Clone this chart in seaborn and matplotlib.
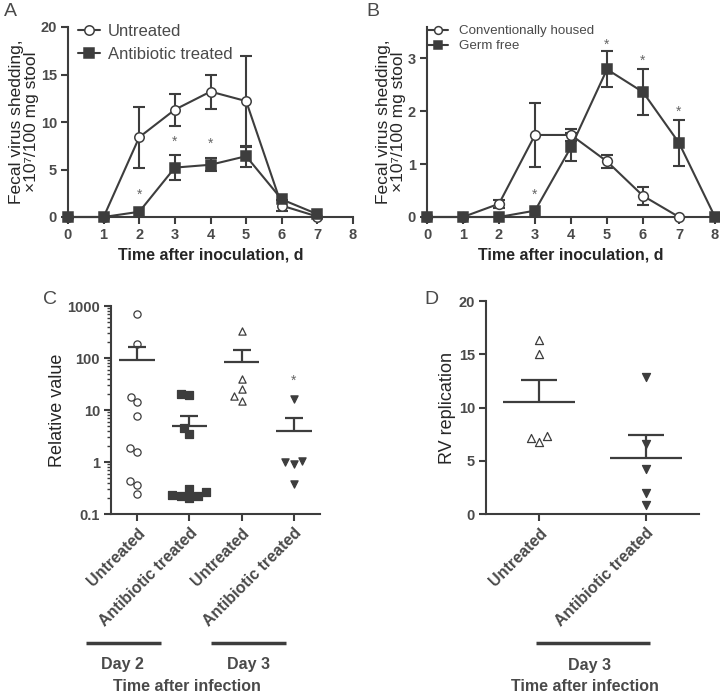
import numpy as np
import pandas as pd
import matplotlib
matplotlib.use("Agg")
import matplotlib.pyplot as plt
import seaborn as sns

# ==============================================================================
# DATOS
# ==============================================================================
# Panel A
days_a = [0, 1, 2, 3, 4, 5, 6, 7]
untreated_a = [0, 0, 8.4, 11.3, 13.2, 12.2, 1.2, 0.05]
untreated_a_err = [0, 0, 3.2, 1.7, 1.8, 4.8, 0.55, 0]
antibiotic_a = [0, 0, 0.55, 5.2, 5.5, 6.4, 1.85, 0.3]
antibiotic_a_err = [0, 0, 0, 1.3, 0.7, 1.1, 0, 0]
star_a_x = [2, 3, 4]
star_a_y = [2.3, 7.9, 7.7]

# Panel B
days_conv = [0, 1, 2, 3, 4, 5, 6, 7]
conv_b = [0, 0, 0.25, 1.55, 1.55, 1.05, 0.4, 0]
conv_b_err = [0, 0, 0.08, 0.6, 0.12, 0.13, 0.17, 0]
days_germ = [0, 1, 2, 3, 4, 5, 6, 7, 8]
germ_b = [0, 0, 0, 0.12, 1.32, 2.79, 2.36, 1.40, 0]
germ_b_err = [0, 0, 0, 0, 0.27, 0.34, 0.44, 0.44, 0]
star_b_x = [3, 5, 6, 7]
star_b_y = [0.42, 3.26, 2.95, 1.98]

# Panel C (dia 2 y dia 3)
untreated_d2 = [690, 187, 18, 14, 7.8, 1.9, 1.55, 0.44, 0.36, 0.24]
antibiotic_d2 = [20.6, 19.4, 4.6, 3.4, 0.30, 0.26, 0.23, 0.22, 0.22, 0.20]
untreated_d3 = [324, 39.6, 25.3, 18.3, 15.1]
antibiotic_d3 = [16.3, 1.06, 1.0, 0.91, 0.38]
cats_c = ["d2_u", "d2_a", "d3_u", "d3_a"]
labels_c = ["Untreated", "Antibiotic treated", "Untreated", "Antibiotic treated"]

# Panel D (dia 3)
untreated_rv = [16.3, 15.0, 7.3, 6.75, 7.16]
antibiotic_rv = [12.9, 6.6, 4.2, 1.95, 0.8]
cats_d = ["u", "a"]
labels_d = ["Untreated", "Antibiotic treated"]

# ==============================================================================
# ESTILO
# ==============================================================================
sns.set_theme(style="ticks")
plt.rcParams["font.family"] = ["Liberation Sans", "DejaVu Sans"]
DARK = "#3d3d3d"
TXT = "#4a4a4a"
plt.rcParams.update({
    "axes.edgecolor": DARK, "axes.linewidth": 1.5,
    "xtick.color": DARK, "ytick.color": DARK,
    "xtick.labelcolor": TXT, "ytick.labelcolor": TXT,
    "xtick.major.width": 1.5, "ytick.major.width": 1.5,
    "xtick.major.size": 5, "ytick.major.size": 5,
    "text.color": TXT,
})

fig = plt.figure(figsize=(7.2, 6.95), dpi=100)
W, H = 720, 695


def add_ax(l, t, r, b):
    return fig.add_axes([l / W, 1 - b / H, (r - l) / W, (b - t) / H])


def line_panel(ax, x, y, err, label, filled, ms):
    x, y, err = np.array(x), np.array(y), np.array(err)
    m = err > 0
    ax.errorbar(x[m], y[m], yerr=err[m], fmt="none", ecolor=DARK,
                elinewidth=1.5, capsize=4.5, capthick=1.5, clip_on=False)
    sns.lineplot(x=x, y=y, ax=ax, color=DARK, linewidth=1.5,
                 marker="s" if filled else "o", markersize=ms,
                 markerfacecolor=DARK if filled else "white",
                 markeredgecolor=DARK, markeredgewidth=1.1,
                 label=label, clip_on=False, zorder=3)


def style_axes(ax):
    sns.despine(ax=ax)
    ax.tick_params(labelsize=10.5, pad=3)
    for t in ax.get_xticklabels() + ax.get_yticklabels():
        t.set_fontweight("bold")


# ---------------- Panel A ----------------
axA = add_ax(68, 27, 353, 217)
line_panel(axA, days_a, untreated_a, untreated_a_err, "Untreated", False, 6.8)
line_panel(axA, days_a, antibiotic_a, antibiotic_a_err, "Antibiotic treated", True, 7)
for sx, sy in zip(star_a_x, star_a_y):
    axA.text(sx, sy, "*", ha="center", va="center", fontsize=10, color="#666666")
axA.set_xlim(0, 8)
axA.set_ylim(0, 20)
axA.set_xticks(range(9))
axA.set_yticks([0, 5, 10, 15, 20])
axA.set_xlabel("Time after inoculation, d", fontsize=11.5, fontweight="bold", labelpad=4)
axA.set_ylabel("Fecal virus shedding,\n×10⁷/100 mg stool", fontsize=12.5, labelpad=1,
               linespacing=1.05)
axA.legend(loc="upper left", bbox_to_anchor=(0.035, 1.015), frameon=False, fontsize=12,
           handlelength=1.3, handletextpad=0.5, labelspacing=0.45, borderaxespad=0,
           borderpad=0)
style_axes(axA)
fig.text(4 / W, 1 - 3 / H, "A", fontsize=14, va="top", ha="left")

# ---------------- Panel B ----------------
axB = add_ax(427, 27, 715, 217)
line_panel(axB, days_conv, conv_b, conv_b_err, "Conventionally housed", False, 7)
line_panel(axB, days_germ, germ_b, germ_b_err, "Germ free", True, 7)
for sx, sy in zip(star_b_x, star_b_y):
    axB.text(sx, sy, "*", ha="center", va="center", fontsize=10, color="#666666")
axB.set_xlim(0, 8)
axB.set_ylim(0, 3.59)
axB.set_xticks(range(9))
axB.set_yticks([0, 1, 2, 3])
axB.set_xlabel("Time after inoculation, d", fontsize=11.5, fontweight="bold", labelpad=4)
axB.set_ylabel("Fecal virus shedding,\n×10⁷/100 mg stool", fontsize=12.5, labelpad=1,
               linespacing=1.05)
axB.legend(loc="upper left", bbox_to_anchor=(0.0, 1.01), frameon=False, fontsize=9.6,
           handlelength=1.6, handletextpad=0.8, labelspacing=0.2, borderaxespad=0,
           borderpad=0, markerscale=0.8)
style_axes(axB)
fig.text(366 / W, 1 - 3 / H, "B", fontsize=14, va="top", ha="left")

# ---------------- Panel C ----------------
axC = add_ax(111, 306, 320, 514)
df_c = pd.DataFrame({
    "grupo": ["d2_u"] * len(untreated_d2) + ["d2_a"] * len(antibiotic_d2)
    + ["d3_u"] * len(untreated_d3) + ["d3_a"] * len(antibiotic_d3),
    "valor": untreated_d2 + antibiotic_d2 + untreated_d3 + antibiotic_d3,
})
axC.set_yscale("log")
estilos_c = {"d2_u": ("o", "white"), "d2_a": ("s", DARK),
             "d3_u": ("^", "white"), "d3_a": ("v", DARK)}
for g, (mk, fc) in estilos_c.items():
    sns.swarmplot(data=df_c[df_c["grupo"] == g], x="grupo", y="valor", order=cats_c,
                  ax=axC, marker=mk, color=fc, edgecolor=DARK, linewidth=0.9,
                  size=5.2, zorder=3)
resumen_c = df_c.groupby("grupo")["valor"].agg(["mean", "sem"]).reindex(cats_c)
for i, (mu, se) in enumerate(zip(resumen_c["mean"], resumen_c["sem"])):
    axC.hlines(mu, i - 0.34, i + 0.34, color=DARK, lw=1.6, zorder=4)
    axC.vlines(i, mu, mu + se, color=DARK, lw=1.6, zorder=4)
    axC.hlines(mu + se, i - 0.17, i + 0.17, color=DARK, lw=1.6, zorder=4)
axC.text(3, 37, "*", ha="center", va="center", fontsize=10, color="#666666")
axC.set_xlim(-0.5, 3.5)
axC.set_ylim(0.1, 1000)
axC.set_yticks([0.1, 1, 10, 100, 1000])
axC.set_yticklabels(["0.1", "1", "10", "100", "1000"])
axC.set_xticks(range(4))
axC.set_xticklabels(labels_c)
axC.set_xlabel("")
axC.set_ylabel("Relative value", fontsize=13, labelpad=1)
style_axes(axC)
axC.tick_params(axis="x", labelrotation=45, labelsize=11.5)
axC.tick_params(axis="y", which="minor", length=3, width=1, color=DARK)
for t in axC.get_xticklabels():
    t.set_ha("right")
    t.set_rotation_mode("anchor")
for x0, x1, xt, txt in [(-0.12, 0.239, 0.057, "Day 2"), (0.478, 0.837, 0.66, "Day 3")]:
    axC.plot([x0, x1], [-0.62, -0.62], transform=axC.transAxes, color=DARK, lw=2.5,
             clip_on=False, solid_capstyle="butt")
    axC.text(xt, -0.725, txt, transform=axC.transAxes, ha="center", va="center",
             fontsize=11.5, fontweight="bold")
axC.text(0.364, -0.83, "Time after infection", transform=axC.transAxes, ha="center",
         va="center", fontsize=11.5, fontweight="bold")
fig.text(43 / W, 1 - 291 / H, "C", fontsize=14, va="top", ha="left")

# ---------------- Panel D ----------------
axD = add_ax(486, 301, 699, 514)
df_d = pd.DataFrame({
    "grupo": ["u"] * len(untreated_rv) + ["a"] * len(antibiotic_rv),
    "valor": untreated_rv + antibiotic_rv,
})
estilos_d = {"u": ("^", "white"), "a": ("v", DARK)}
for g, (mk, fc) in estilos_d.items():
    sns.swarmplot(data=df_d[df_d["grupo"] == g], x="grupo", y="valor", order=cats_d,
                  ax=axD, marker=mk, color=fc, edgecolor=DARK, linewidth=0.9,
                  size=5.8, zorder=3)
resumen_d = df_d.groupby("grupo")["valor"].agg(["mean", "sem"]).reindex(cats_d)
for i, (mu, se) in enumerate(zip(resumen_d["mean"], resumen_d["sem"])):
    axD.hlines(mu, i - 0.34, i + 0.34, color=DARK, lw=1.6, zorder=4)
    axD.vlines(i, mu, mu + se, color=DARK, lw=1.6, zorder=4)
    axD.hlines(mu + se, i - 0.17, i + 0.17, color=DARK, lw=1.6, zorder=4)
axD.set_xlim(-0.5, 1.5)
axD.set_ylim(0, 20)
axD.set_yticks([0, 5, 10, 15, 20])
axD.set_xticks(range(2))
axD.set_xticklabels(labels_d)
axD.set_xlabel("")
axD.set_ylabel("RV replication", fontsize=13, labelpad=2)
style_axes(axD)
axD.tick_params(axis="x", labelrotation=45, labelsize=11.5)
for t in axD.get_xticklabels():
    t.set_ha("right")
    t.set_rotation_mode("anchor")
axD.plot([0.235, 0.77], [-0.606, -0.606], transform=axD.transAxes, color=DARK, lw=2.5,
         clip_on=False, solid_capstyle="butt")
axD.text(0.488, -0.709, "Day 3", transform=axD.transAxes, ha="center", va="center",
         fontsize=11.5, fontweight="bold")
axD.text(0.465, -0.808, "Time after infection", transform=axD.transAxes, ha="center",
         va="center", fontsize=11.5, fontweight="bold")
fig.text(424 / W, 1 - 291 / H, "D", fontsize=14, va="top", ha="left")

fig.savefig("out.png", dpi=100)
